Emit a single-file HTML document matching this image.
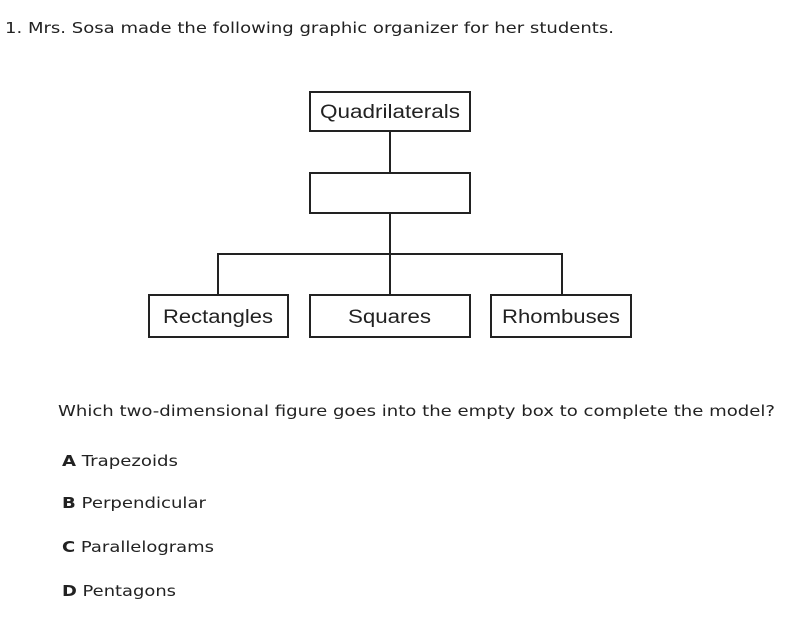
<!DOCTYPE html>
<html><head><style>html,body{margin:0;padding:0;background:#fff;}</style></head><body>
<svg width="788" height="613" viewBox="0 0 788 613" xmlns="http://www.w3.org/2000/svg">
<g font-family="DejaVu Sans, Verdana, sans-serif" font-size="15" fill="#222">
<text x="5" y="33" textLength="609" lengthAdjust="spacingAndGlyphs">1. Mrs. Sosa made the following graphic organizer for her students.</text>
<text x="58" y="416" textLength="717" lengthAdjust="spacingAndGlyphs">Which two-dimensional figure goes into the empty box to complete the model?</text>
<text x="62" y="466" textLength="116" lengthAdjust="spacingAndGlyphs"><tspan font-weight="bold">A</tspan> Trapezoids</text>
<text x="62" y="508" textLength="144" lengthAdjust="spacingAndGlyphs"><tspan font-weight="bold">B</tspan> Perpendicular</text>
<text x="62" y="552" textLength="152" lengthAdjust="spacingAndGlyphs"><tspan font-weight="bold">C</tspan> Parallelograms</text>
<text x="62" y="596" textLength="114" lengthAdjust="spacingAndGlyphs"><tspan font-weight="bold">D</tspan> Pentagons</text>
</g>
<g stroke="#222" stroke-width="2" fill="none">
<rect x="310" y="92" width="160" height="39"/>
<rect x="310" y="173" width="160" height="40"/>
<rect x="149" y="295" width="139" height="42"/>
<rect x="310" y="295" width="160" height="42"/>
<rect x="491" y="295" width="140" height="42"/>
<line x1="390" y1="131" x2="390" y2="173"/>
<line x1="390" y1="213" x2="390" y2="295"/>
<line x1="218" y1="254" x2="562" y2="254"/>
<line x1="218" y1="253" x2="218" y2="295"/>
<line x1="562" y1="253" x2="562" y2="295"/>
</g>
<g font-family="Liberation Sans, Arial, sans-serif" font-size="19" fill="#222">
<text x="320" y="118" textLength="140" lengthAdjust="spacingAndGlyphs">Quadrilaterals</text>
<text x="163" y="323" textLength="110" lengthAdjust="spacingAndGlyphs">Rectangles</text>
<text x="348" y="323" textLength="83" lengthAdjust="spacingAndGlyphs">Squares</text>
<text x="502" y="323" textLength="118" lengthAdjust="spacingAndGlyphs">Rhombuses</text>
</g>
</svg>
</body></html>
